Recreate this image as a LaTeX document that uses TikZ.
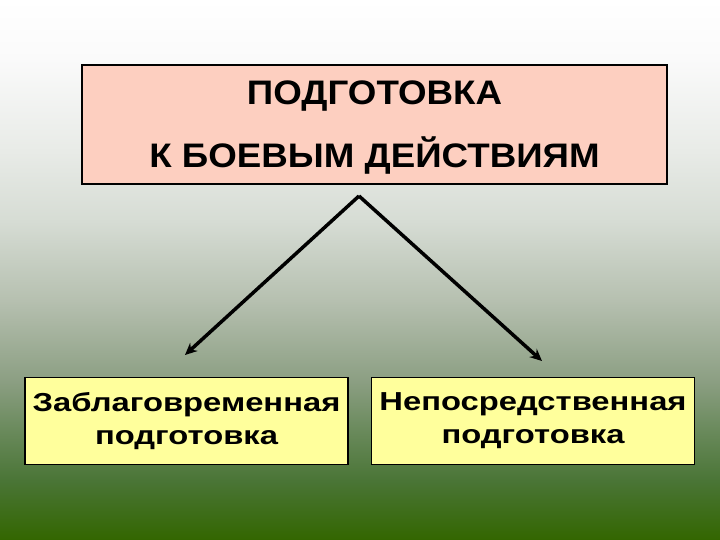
\documentclass[tikz,border=0pt]{standalone}
\usepackage{fontspec}
\setmainfont{Liberation Sans}
\newfontfamily\slidefont[FakeStretch=1.08]{Liberation Sans}
\newfontfamily\widefont[FakeStretch=1.26]{Liberation Sans}
\usepackage{tikz}
\usetikzlibrary{calc, arrows.meta}
\definecolor{pinkbox}{HTML}{FDCFC0}
\definecolor{yellowbox}{HTML}{FFFF9C}
\definecolor{bga}{HTML}{336600}
\definecolor{bgb}{HTML}{4A7536}
\definecolor{bgc}{HTML}{6A8A5C}
\definecolor{bgd}{HTML}{8C9F83}
\definecolor{bge}{HTML}{B6C0B0}
\definecolor{bgf}{HTML}{D6DCD4}
\definecolor{bgg}{HTML}{E8EBE7}
\definecolor{bgh}{HTML}{FAFAFA}
\pgfdeclareverticalshading{slidebg}{100bp}{color(0bp)=(bga); color(25bp)=(bga); color(30.5bp)=(bgb); color(35.2bp)=(bgc); color(39.8bp)=(bgd); color(47.2bp)=(bge); color(54.5bp)=(bgf); color(61bp)=(bgg); color(69.5bp)=(bgh); color(75bp)=(white); color(100bp)=(white)}
\tikzstyle{topbox}    = [draw=black, line width=1.2pt, fill=pinkbox, minimum width=585pt, minimum height=119pt, inner sep=0pt]
\tikzstyle{toptext}   = [anchor=base, font=\slidefont\fontsize{34}{40}\selectfont\bfseries]
\tikzstyle{subbox}    = [draw=black, line width=1.2pt, fill=yellowbox, minimum width=323pt, minimum height=87pt, inner sep=0pt, align=center, font=\widefont\fontsize{26}{33}\selectfont\bfseries]
\tikzstyle{arrow}     = [line width=3.5pt, -{Stealth[length=12pt,width=11pt]}]

\begin{document}
\begin{tikzpicture}[x=1pt, y=-1pt]
  \useasboundingbox (0,0) rectangle (720,540);
  \shade[shading=slidebg] (0,0) rectangle (720,540);

  %put the main box on top
  \node[topbox] (main) at (374.5,124.5) {};
  \node[toptext] (line1) at (374.5,105) {ПОДГОТОВКА};
  \node[toptext] (line2) at (374.5,168) {К БОЕВЫМ ДЕЙСТВИЯМ};

  %put the two kinds of preparation below
  \node[subbox] (early) at (186.5,421) {Заблаговременная\\подготовка};
  \node[subbox] (direct) at (533,421) {Непосредственная\\подготовка};

  \coordinate (apex) at (359,196);
  \coordinate (lend) at (185,355);
  \coordinate (rend) at (542,361);
  \draw[arrow] (apex) -- (lend);
  \draw[arrow] (apex) -- (rend);
\end{tikzpicture}
\end{document}
